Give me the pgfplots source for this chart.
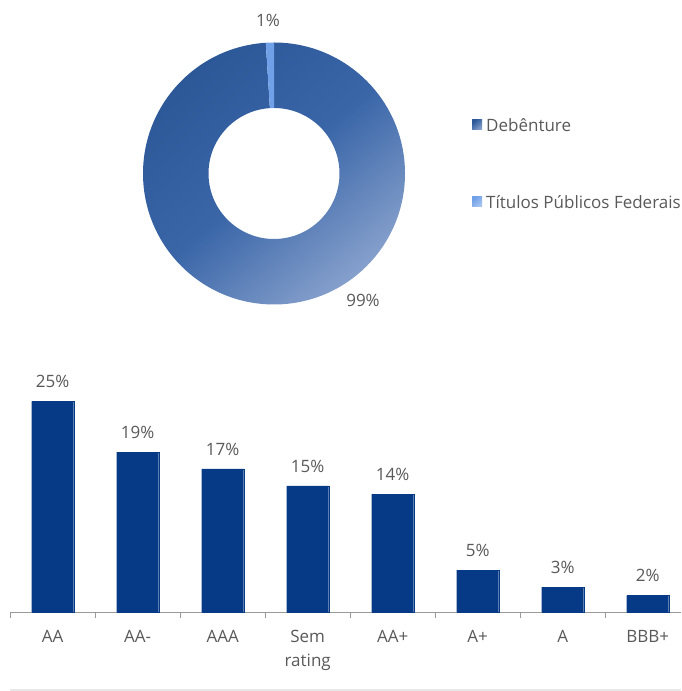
\documentclass[border=0pt]{standalone}
\usepackage{pgfplots}
\pgfplotsset{compat=1.18}
\usepackage{pgfplotstable}
\usepackage{fontspec}
\setmainfont{Open Sans}
\pgfkeys{/pgf/number format/assume math mode=true}
\definecolor{barc}{HTML}{073A86}
\definecolor{txt}{HTML}{595959}
\definecolor{deb1}{HTML}{2C5898}
\definecolor{debm}{HTML}{3A66A8}
\definecolor{deb2}{HTML}{86A0CC}
\definecolor{tit}{HTML}{6FA0E8}
\definecolor{axc}{HTML}{9A9A9A}

\pgfplotstableread{
cat val
0 25
1 19
2 17
3 15
4 14
5 5
6 3
7 2
}\bars

\pgfplotstableread{
name share
Debenture 99
Titulos 1
}\donut

\newcommand{\fs}{\fontsize{17}{24}\selectfont}

\begin{document}
\begin{tikzpicture}[x=1pt,y=1pt]
\path[use as bounding box] (0,0) rectangle (681,691);

% ---------- bar chart ----------
\begin{axis}[
  scale only axis, width=671pt, height=228pt,
  anchor=south west, at={(12,93)},
  xmin=-0.5, xmax=7.394, ymin=0, ymax=27,
  axis x line=bottom, axis y line=none,
  x axis line style={-, draw=axc, line width=1pt},
  xtick={0,...,7},
  xticklabels={AA,AA-,AAA,{Sem\\rating},AA+,A+,A,BBB+},
  xticklabel style={align=center, text=txt, font=\fs, yshift=-8pt},
  major x tick style={draw=none},
  minor xtick={-0.5,0.5,...,6.5},
  minor x tick style={draw=axc, line width=1pt},
  tick align=outside, major tick length=6pt, minor tick length=6pt,
  ytick=\empty,
  ybar, bar width=42pt,
  nodes near coords={\pgfmathprintnumber{\pgfplotspointmeta}\%},
  nodes near coords style={text=txt, font=\fs, yshift=10pt},
  clip=false,
]
\addplot[fill=barc, draw=barc] table[x=cat, y=val] {\bars};
\end{axis}

% ---------- donut ----------
\pgfplotstablegetelem{0}{share}\of\donut
\pgfmathsetmacro{\shA}{\pgfplotsretval}
\pgfplotstablegetelem{1}{share}\of\donut
\pgfmathsetmacro{\shB}{\pgfplotsretval}
\pgfmathsetmacro{\angA}{90-3.6*\shA}
\begin{axis}[
  x=1pt, y=1pt, xmin=-131, xmax=131, ymin=-131, ymax=131,
  anchor=center, at={(274,517.5)}, hide axis, scale only axis, clip=false,
]
\shade[top color=deb1, bottom color=deb2, middle color=debm, shading angle=40]
  (axis cs:0,131) arc[start angle=90, end angle=\angA, radius=131pt]
  -- (axis cs:{65.5*cos(\angA)},{65.5*sin(\angA)})
  arc[start angle=\angA, end angle=90, radius=65.5pt] -- cycle;
\fill[tit]
  (axis cs:{131*cos(\angA)},{131*sin(\angA)}) arc[start angle=\angA, end angle=-270, radius=131pt]
  -- (axis cs:0,65.5)
  arc[start angle=-270, end angle=\angA, radius=65.5pt] -- cycle;
\node[text=txt, font=\fs] at (axis cs:-6,153) {\pgfmathprintnumber{\shB}\%};
\node[text=txt, font=\fs] at (axis cs:89,-127) {\pgfmathprintnumber{\shA}\%};
\end{axis}

% ---------- legend ----------
\shade[top color=deb1, bottom color=deb2, shading angle=40] (472,561) rectangle (482,571);
\node[anchor=west, text=txt, font=\fs, inner sep=0pt] at (486,566) {Debênture};
\shade[top color=tit, bottom color=tit!60!white, shading angle=40] (472,484) rectangle (482,494);
\node[anchor=west, text=txt, font=\fs, inner sep=0pt] at (486,489) {Títulos Públicos Federais};

% ---------- bottom rule ----------
\draw[draw=black!9, line width=2pt] (10,1) -- (681,1);
\end{tikzpicture}
\end{document}
